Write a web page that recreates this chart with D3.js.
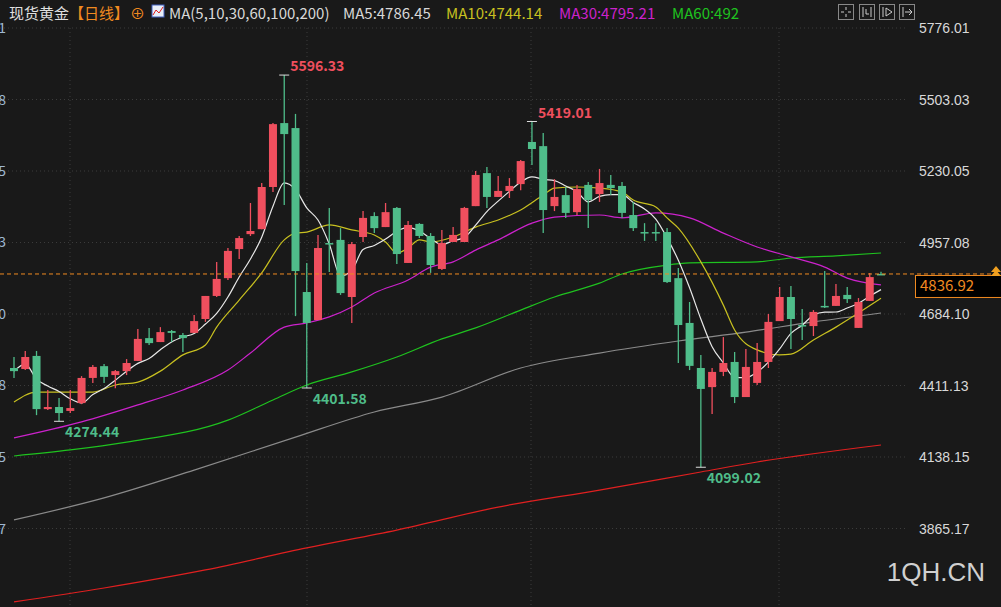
<!DOCTYPE html>
<html>
<head>
<meta charset="utf-8">
<script src="https://cdn.jsdelivr.net/npm/d3@7"></script>
<style>
  body { margin: 0; background: #191919; overflow: hidden; }
  svg { display: block; font-family: "Microsoft YaHei", "Noto Sans CJK SC", "Open Sans", sans-serif; }
</style>
</head>
<body>
<svg id="chart"></svg>
<script>
var width = 1001;
var height = 607;

// daily candles, oldest first
var opens  = [4478,4474,4524,4321,4329,4314,4344,4440,4485,4451,4466,4505,4592,4577,4619,4604,4612,4665,4753,4821,
              4932,4989,5008,5169,5413,5394,4768,4661,4955,4967,4749,4978,5058,5016,5089,4879,5028,4982,4856,4959,
              4959,5096,5222,5131,5154,5180,5341,5325,5096,5138,5073,5177,5142,5177,5173,5062,4997,4997,4997,4821,
              4650,4478,4405,4463,4501,4367,4421,4501,4657,4749,4642,4638,4715,4715,4757,4631,4734,4837];
var highs  = [4520,4543,4543,4394,4363,4394,4447,4489,4493,4470,4512,4627,4631,4634,4623,4612,4680,4753,4883,4936,
              4982,5108,5184,5413,5596.33,5448,4879,4986,5089,5012,4959,5077,5073,5108,5093,5039,5031,4993,5005,5016,
              5093,5230,5245,5211,5203,5272,5419.01,5375,5199,5169,5177,5188,5238,5215,5188,5112,5031,5031,5012,4860,
              4730,4528,4478,4596,4539,4550,4573,4684,4787,4791,4703,4699,4848,4799,4787,4745,4841,4845];
var lows   = [4440,4470,4298,4318,4274.44,4306,4340,4421,4421,4401,4451,4505,4566,4577,4577,4539,4612,4654,4749,4814,
              4894,4982,5008,5150,5100,4676,4401.58,4661,4844,4757,4650,4959,4993,5016,4875,4879,4974,4841,4852,4959,
              4959,5096,5089,5131,5127,5157,5253,4993,5077,5051,5062,5012,5112,5138,5051,5001,4963,4963,4802,4497,
              4470,4099.02,4302,4447,4344,4367,4413,4478,4657,4550,4585,4600,4707,4715,4726,4631,4734,4833];
var closes = [4466,4520,4321,4329,4306,4325,4440,4482,4444,4466,4497,4589,4573,4615,4612,4592,4657,4753,4818,4925,
              4974,5001,5169,5409,5371,4848,4650,4936,4951,4764,4951,5051,5012,5073,4913,5024,4982,4871,4955,4986,
              5089,5215,5131,5154,5173,5268,5314,5081,5131,5070,5161,5119,5184,5165,5070,5012,4993,4993,4806,4642,
              4486,4398,4463,4497,4367,4482,4501,4654,4749,4665,4638,4692,4711,4753,4741,4730,4825,4836.92];

// moving averages: [candle index, value]
var ma10 = [[0,4348],[2,4386],[5,4386],[7,4386],[9,4413],[11,4424],[13,4466],[15,4528],[17,4566],[18,4634],[20,4737],
            [22,4841],[24,4967],[25,4993],[26,4997],[28,5024],[30,5005],[32,4986],[33,4959],[34,4917],[35,4936],[36,4967],
            [37,4959],[39,4978],[41,5016],[43,5043],[45,5081],[47,5138],[48,5165],[50,5169],[52,5165],[54,5150],[55,5119],
            [57,5093],[58,5051],[59,5012],[61,4883],[63,4718],[64,4623],[66,4547],[68,4528],[69,4531],[71,4585],[73,4634],
            [75,4688],[77,4744]];
var ma30 = [[0,4211],[6,4272],[11,4337],[15,4394],[19,4470],[21,4535],[24,4634],[26,4650],[28,4673],[30,4711],[32,4764],
            [35,4814],[37,4863],[39,4883],[41,4928],[43,4967],[46,5031],[48,5054],[52,5062],[54,5051],[57,5070],[60,5051],
            [63,4993],[66,4940],[69,4902],[72,4863],[74,4821],[77,4795]];
var ma60 = [[0,4142],[5,4165],[10,4195],[19,4279],[23,4356],[26,4413],[30,4463],[34,4520],[38,4589],[41,4631],[45,4699],
            [48,4749],[52,4802],[54,4837],[58,4871],[60,4879],[66,4883],[69,4898],[73,4906],[77,4917]];
var ma100 = [[0,3898],[8,3982],[16,4088],[25,4214],[32,4310],[38,4367],[45,4478],[52,4535],[59,4581],[65,4615],[71,4654],[77,4688]];
var ma200 = [[0,3585],[8,3638],[17,3707],[26,3791],[34,3859],[43,3947],[52,4012],[61,4081],[66,4119],[77,4184]];

var yTicks = [5776.01,5503.03,5230.05,4957.08,4684.10,4411.13,4138.15,3865.17];
var leftTail = ["1","8","5","3","0","8","5","7"];
var gridX = [70,307,531,779];
var lastPrice = 4836.92;

var up = "#ef4f5e", down = "#4fbd8a";

var svg = d3.select("#chart").attr("width", width).attr("height", height);

var x = d3.scaleLinear().domain([0, closes.length - 1]).range([14, 881]);
var y = d3.scaleLinear().domain([3865.17, 5776.01]).range([528.5, 28]);

// grid
svg.append("g").selectAll("line").data(yTicks).enter().append("line")
  .attr("x1", 0).attr("x2", 905).attr("y1", d => y(d)).attr("y2", d => y(d))
  .attr("stroke", "#3c3c3c").attr("stroke-dasharray", "1,3");
svg.append("g").selectAll("line").data(gridX).enter().append("line")
  .attr("x1", d => d).attr("x2", d => d).attr("y1", 28).attr("y2", height)
  .attr("stroke", "#3c3c3c").attr("stroke-dasharray", "1,3");

// right axis
var yAxis = d3.axisRight(y).tickValues(yTicks).tickSize(0).tickFormat(d3.format(".2f"));
var ax = svg.append("g").attr("transform", "translate(916,0)").call(yAxis);
ax.select(".domain").remove();
ax.selectAll("text").attr("fill", "#d8d8d8").attr("font-size", 14).attr("dy", "0.35em");

// clipped left axis
svg.append("g").selectAll("text").data(yTicks).enter().append("text")
  .attr("x", 6).attr("y", d => y(d) + 5).attr("text-anchor", "end")
  .attr("fill", "#9fb8d0").attr("font-size", 14).text((d, i) => leftTail[i]);

// MA lines
var line = d3.line().x(d => x(d[0])).y(d => y(d[1])).curve(d3.curveMonotoneX);
var ma5 = closes.map((c, i) => {
  var s = closes.slice(Math.max(0, i - 4), i + 1);
  return [i, d3.mean(s)];
});
[[ma200, "#e02020"], [ma100, "#8a8a8a"], [ma60, "#1fc21f"], [ma30, "#cc22cc"], [ma10, "#c8c020"], [ma5, "#e8e8e8"]]
  .forEach(m => {
    svg.append("path").datum(m[0]).attr("d", line)
      .attr("fill", "none").attr("stroke", m[1]).attr("stroke-width", 1.2);
  });

// candles
var idx = d3.range(closes.length);
var cg = svg.append("g").selectAll("g").data(idx).enter().append("g");
cg.append("line")
  .attr("x1", i => x(i)).attr("x2", i => x(i))
  .attr("y1", i => y(highs[i])).attr("y2", i => y(lows[i]))
  .attr("stroke", i => closes[i] >= opens[i] ? up : down).attr("stroke-width", 1.3);
cg.append("rect")
  .attr("x", i => x(i) - 4).attr("width", 8)
  .attr("y", i => y(Math.max(opens[i], closes[i])))
  .attr("height", i => Math.max(1.5, Math.abs(y(opens[i]) - y(closes[i]))))
  .attr("fill", i => closes[i] >= opens[i] ? up : down);

// extreme markers
var marks = [[24, highs[24], "5596.33", up, -4], [46, highs[46], "5419.01", up, -4],
             [26, lows[26], "4401.58", down, 16], [4, lows[4], "4274.44", down, 16], [61, lows[61], "4099.02", down, 16]];
marks.forEach(m => {
  var mx = x(m[0]), my = y(m[1]);
  svg.append("line").attr("x1", mx - 5).attr("x2", mx + 5).attr("y1", my).attr("y2", my).attr("stroke", "#ddd");
  svg.append("text").attr("x", mx + 6).attr("y", my + m[4]).attr("fill", m[3])
    .attr("font-size", 14).attr("font-weight", "bold").text(m[2]);
});

// last price
svg.append("line").attr("x1", 0).attr("x2", 998).attr("y1", y(lastPrice)).attr("y2", y(lastPrice))
  .attr("stroke", "#f08a20").attr("stroke-dasharray", "4,3");
svg.append("rect").attr("x", 915.5).attr("y", y(lastPrice) + 1.5).attr("width", 86).attr("height", 22)
  .attr("fill", "#000").attr("stroke", "#f08a20");
svg.append("text").attr("x", 920).attr("y", y(lastPrice) + 17.5).attr("fill", "#f08a20")
  .attr("font-size", 15).text("4836.92");
svg.append("path").attr("d", "M991,272 L996,266 L1001,272 Z M991,276 L996,270 L1001,276 Z").attr("fill", "#f0a020");

// header
var hdr = svg.append("text").attr("x", 9).attr("y", 19).attr("font-size", 15);
hdr.append("tspan").attr("fill", "#e0e0e0").text("现货黄金");
hdr.append("tspan").attr("fill", "#f08a20").text("【日线】");
hdr.append("tspan").attr("fill", "#f08a20").attr("x", 130).text("⊕");
svg.append("rect").attr("x", 152).attr("y", 5).attr("width", 12).attr("height", 12).attr("fill", "#e8eef8").attr("stroke", "#4060c0");
svg.append("path").attr("d", "M153,15 L156,10 L159,13 L163,7").attr("stroke", "#e02020").attr("fill", "none");
var leg = svg.append("text").attr("y", 19).attr("font-size", 15);
leg.append("tspan").attr("x", 169).attr("fill", "#d8d8d8").text("MA(5,10,30,60,100,200)");
leg.append("tspan").attr("x", 343).attr("fill", "#d8d8d8").text("MA5:4786.45");
leg.append("tspan").attr("x", 446).attr("fill", "#c8c020").text("MA10:4744.14");
leg.append("tspan").attr("x", 559).attr("fill", "#cc22cc").text("MA30:4795.21");
leg.append("tspan").attr("x", 672).attr("fill", "#1fc21f").text("MA60:492");

// toolbar icons
[838, 859, 879, 899].forEach((px, i) => {
  svg.append("rect").attr("x", px + 0.5).attr("y", 4.5).attr("width", 15).attr("height", 15)
    .attr("fill", "none").attr("stroke", "#888");
  var paths = ["M" + (px+8) + ",7 v3 M" + (px+8) + ",14 v3 M" + (px+3) + ",12 h3 M" + (px+10) + ",12 h3",
               "M" + (px+4) + ",7 v10 M" + (px+12) + ",7 v10 M" + (px+7) + ",9 v5 h3",
               "M" + (px+4) + ",7 v10 M" + (px+7) + ",8 l6,4 l-6,4 z",
               "M" + (px+4) + ",7 v10 M" + (px+6) + ",12 h6 M" + (px+10) + ",9 l3,3 l-3,3"];
  svg.append("path").attr("d", paths[i]).attr("stroke", "#ccc").attr("fill", "none");
});

// watermark
svg.append("text").attr("x", 985).attr("y", 581).attr("text-anchor", "end")
  .attr("fill", "#d0d0d0").attr("font-size", 26).attr("font-family", "Arial, Liberation Sans, sans-serif")
  .text("1QH.CN");
</script>
</body>
</html>
